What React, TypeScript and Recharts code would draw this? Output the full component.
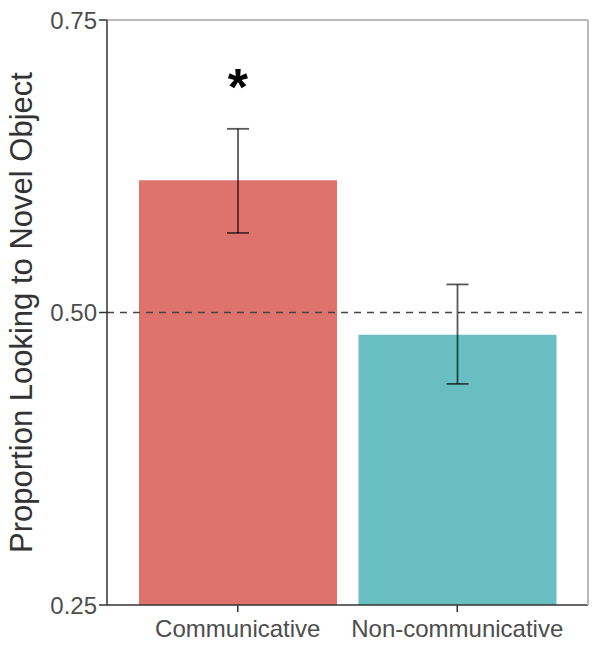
import React from 'react';
import {
  BarChart, Bar, Cell, XAxis, YAxis, ErrorBar, ReferenceLine, ReferenceDot
} from 'recharts';

const conditions = ['Communicative', 'Non-communicative'];
const proportions = [0.613, 0.481];
const ciLow = [0.568, 0.439];
const ciHigh = [0.657, 0.524];
const yTicks = [0.25, 0.5, 0.75];
const COLORS = ['#DE736D', '#69BEC2'];

const data = conditions.map((name, i) => ({
  name,
  value: proportions[i],
  err: [proportions[i] - ciLow[i], ciHigh[i] - proportions[i]],
}));

const FONT = '"Liberation Sans", Arial, sans-serif';
const TEXT = '#4d4d4d';

export default function App() {
  return (
    <div style={{ position: 'absolute', left: 0, top: 0, background: '#fff' }}>
      <BarChart
        width={601}
        height={649}
        data={data}
        margin={{ top: 20, right: 12, left: 0, bottom: 0 }}
        style={{ fontFamily: FONT }}
      >
        <XAxis
          dataKey="name"
          height={44}
          padding={{ left: 21, right: 21 }}
          axisLine={{ stroke: '#333', strokeWidth: 1.5 }}
          tickLine={{ stroke: '#333', strokeWidth: 1.5 }}
          tickSize={7}
          tick={{ fill: TEXT, fontSize: 24, dy: 6 }}
          interval={0}
        />
        <YAxis
          domain={[0.25, 0.75]}
          ticks={yTicks}
          type="number"
          width={107}
          tickFormatter={(v: number) => v.toFixed(2)}
          axisLine={{ stroke: '#333', strokeWidth: 1.5 }}
          tickLine={{ stroke: '#333', strokeWidth: 1.5 }}
          tickSize={8}
          tick={{ fill: TEXT, fontSize: 24 }}
          label={{
            value: 'Proportion Looking to Novel Object',
            angle: -90,
            position: 'insideLeft',
            dx: 16,
            style: { textAnchor: 'middle', fill: '#333', fontSize: 31 },
          }}
        />
        <YAxis
          yAxisId="right"
          orientation="right"
          type="number"
          domain={[0.25, 0.75]}
          ticks={[]}
          width={1}
          tick={false}
          tickLine={false}
          axisLine={{ stroke: '#bbb', strokeWidth: 2 }}
        />
        <ReferenceLine y={0.75} stroke="#bbb" strokeWidth={2} />
        <ReferenceLine y={0.5} stroke="#444" strokeWidth={1.5} strokeDasharray="7 6" />
        <Bar dataKey="value" barSize={198} isAnimationActive={false}>
          {data.map((entry, index) => (
            <Cell key={`cell-${index}`} fill={COLORS[index]} />
          ))}
          <ErrorBar dataKey="err" width={11} stroke="rgba(0,0,0,0.65)" strokeWidth={1.8} />
        </Bar>
        <ReferenceDot
          x="Communicative"
          y={0.70}
          r={0}
          stroke="none"
          label={{ value: '*', position: 'center', dy: 8, style: { fontSize: 52, fontWeight: 'bold', fill: '#000' } }}
        />
      </BarChart>
    </div>
  );
}
